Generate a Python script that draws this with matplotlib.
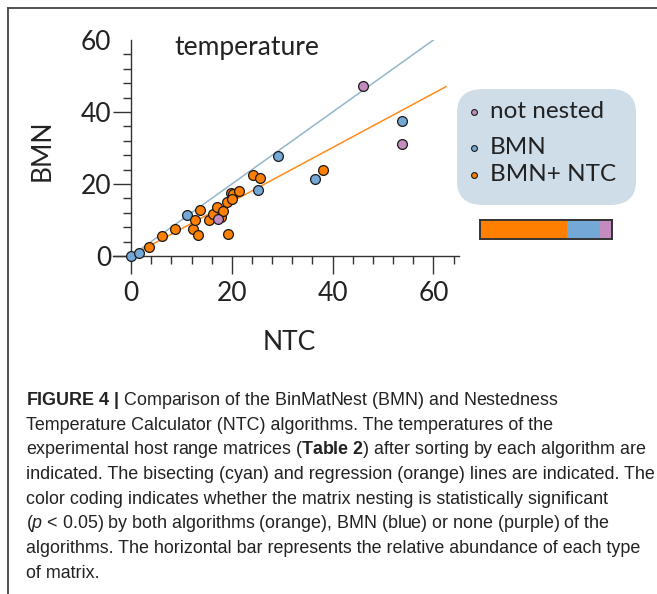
import matplotlib
matplotlib.use("Agg")
import matplotlib.pyplot as plt
from matplotlib.patches import FancyBboxPatch
from matplotlib.lines import Line2D

# --- data ---
orange_x = [3.6, 6.1, 8.7, 12.2, 13.2, 12.6, 13.6, 15.5, 16.3, 17.0, 17.9,
            18.2, 19.0, 19.3, 19.8, 20.3, 20.0, 21.5, 24.2, 25.5, 38.1]
orange_y = [2.5, 5.6, 7.6, 7.4, 5.9, 10.1, 12.8, 10.0, 11.6, 13.7, 10.9,
            12.5, 15.1, 6.1, 17.6, 17.3, 15.8, 18.1, 22.4, 21.8, 23.9]
blue_x = [0.0, 1.5, 11.1, 25.1, 29.1, 36.6, 53.7]
blue_y = [0.0, 0.9, 11.3, 18.3, 27.8, 21.4, 37.5]
purple_x = [17.2, 46.0, 53.8]
purple_y = [10.2, 47.3, 31.1]

bisect_x = [1.5, 60.0]
reg_slope = 0.752
reg_intercept = 0.05
reg_x = [1.5, 62.5]

legend_labels = ["not nested", "BMN", "BMN+ NTC"]
abundance = [21, 8, 3]  # BMN+NTC, BMN, not nested

c_orange = "#ff7f00"
c_blue = "#74a8d6"
c_purple = "#c48bbf"
c_line_blue = "#93b6cc"
c_line_orange = "#ff8c1a"
ink = "#222222"

plt.rcParams["font.family"] = ["Lato", "DejaVu Sans"]
plt.rcParams["mathtext.fontset"] = "custom"
plt.rcParams["mathtext.rm"] = "Liberation Sans"
plt.rcParams["mathtext.bf"] = "Liberation Sans:bold"
plt.rcParams["mathtext.it"] = "Liberation Sans:italic"

W, H = 657, 594
fig = plt.figure(figsize=(W / 100, H / 100), dpi=100)

def fx(px):
    return px / W

def fy(py):
    return 1 - py / H

# --- scatter axes ---
ax = fig.add_axes([fx(113.4), fy(266.8), fx(345.2), 226.8 / H])
ax.set_xlim(-3.5, 65)
ax.set_ylim(-3, 60)
for s in ["top", "right"]:
    ax.spines[s].set_visible(False)
ax.spines["left"].set_position(("data", 0))
ax.spines["bottom"].set_position(("data", 0))
for s in ["left", "bottom"]:
    ax.spines[s].set_color("#333333")
    ax.spines[s].set_linewidth(1.0)
ax.spines["left"].set_bounds(0, 60)

ax.set_xticks([0, 20, 40, 60])
ax.set_yticks([0, 20, 40, 60])
ax.set_xticks([t for t in range(4, 65, 4) if t % 20], minor=True)
ax.set_yticks([t for t in range(4, 60, 4) if t % 20], minor=True)
ax.tick_params(which="both", direction="out", color="#333333", width=1.0,
               labelsize=19, labelcolor=ink)
ax.tick_params(which="major", length=13)
ax.tick_params(which="minor", length=6)
ax.tick_params(axis="x", pad=5)
ax.tick_params(axis="y", pad=1)
# no tick mark at the top of the y axis, only its label
ax.yaxis.get_major_ticks()[-1].tick1line.set_visible(False)

ax.plot(bisect_x, bisect_x, color=c_line_blue, lw=1.1, zorder=1)
ax.plot(reg_x, [reg_slope * v + reg_intercept for v in reg_x],
        color=c_line_orange, lw=1.1, zorder=1)

ax.scatter(blue_x, blue_y, s=50, c=c_blue, edgecolors="#1a1a1a", linewidths=0.9, zorder=3)
ax.scatter(orange_x, orange_y, s=50, c=c_orange, edgecolors="#1a1a1a", linewidths=0.9, zorder=3)
ax.scatter(purple_x, purple_y, s=50, c=c_purple, edgecolors="#1a1a1a", linewidths=0.9, zorder=4)

ax.set_xlabel("NTC", fontsize=19, color=ink, va="center")
ax.xaxis.set_label_coords(0.509, -0.332)
ax.set_ylabel("BMN", fontsize=19, color=ink, va="center")
ax.yaxis.set_label_coords(-0.207, 0.515)
ax.text(0.178, 0.969, "temperature", transform=ax.transAxes, fontsize=19,
        color=ink, ha="left", va="center")

# --- legend box ---
box = FancyBboxPatch((fx(457), fy(205)), fx(636 - 457), (205 - 89) / H,
                     boxstyle="round,pad=0,rounding_size=0.04",
                     transform=fig.transFigure, facecolor="#cfdde8",
                     edgecolor="none", zorder=0)
fig.patches.append(box)
leg_colors = [c_purple, c_blue, c_orange]
leg_y = [112, 148, 175]
for lab, col, yy in zip(legend_labels, leg_colors, leg_y):
    fig.add_artist(Line2D([fx(473.5)], [fy(yy)], marker="o", markersize=4.2,
                          markerfacecolor=col, markeredgecolor="#1a1a1a",
                          markeredgewidth=0.8, linestyle="none"))
    fig.text(fx(490), fy(yy), lab, fontsize=17.5, color=ink, ha="left", va="center")

# --- abundance bar ---
bax = fig.add_axes([fx(480), fy(239), fx(612 - 480), 19 / H])
left = 0
for val, col in zip(abundance, [c_orange, c_blue, c_purple]):
    bax.barh(0, val, left=left, height=1, color=col, edgecolor="none")
    left += val
bax.set_xlim(0, sum(abundance))
bax.set_ylim(-0.5, 0.5)
bax.set_xticks([])
bax.set_yticks([])
for s in bax.spines.values():
    s.set_color("#333333")
    s.set_linewidth(1.4)

# --- frame lines at top and left ---
fig.add_artist(Line2D([fx(8), 1], [fy(8), fy(8)], color="#444444", lw=1.3))
fig.add_artist(Line2D([fx(8), fx(8)], [fy(8), 0], color="#444444", lw=1.3))

# --- caption ---
caption = [
    r"$\mathbf{FIGURE\ 4\ |}$ Comparison of the BinMatNest (BMN) and Nestedness",
    "Temperature Calculator (NTC) algorithms. The temperatures of the",
    r"experimental host range matrices ($\mathbf{Table\ 2}$) after sorting by each algorithm are",
    "indicated. The bisecting (cyan) and regression (orange) lines are indicated. The",
    "color coding indicates whether the matrix nesting is statistically significant",
    r"($p$ < 0.05) by both algorithms (orange), BMN (blue) or none (purple) of the",
    "algorithms. The horizontal bar represents the relative abundance of each type",
    "of matrix.",
]
for i, line in enumerate(caption):
    fig.text(fx(26), fy(405 + i * 24.7), line, fontsize=12.9,
             family="Liberation Sans", color=ink, ha="left", va="baseline")

fig.savefig("out.png", dpi=100)
